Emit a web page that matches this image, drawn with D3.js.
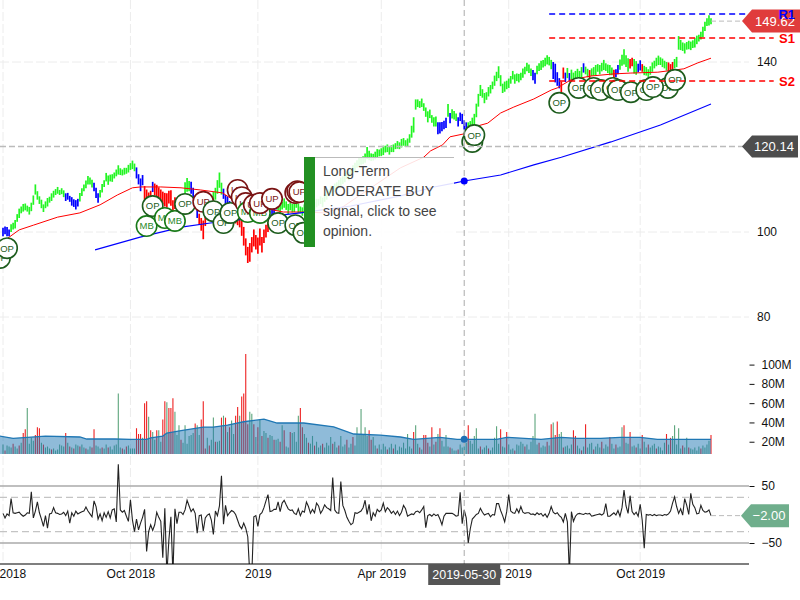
<!DOCTYPE html>
<html>
<head>
<meta charset="utf-8">
<script src="https://cdn.jsdelivr.net/npm/d3@7"></script>
<style>
  html, body { margin: 0; padding: 0; background: #fff; }
  text { font-family: "Liberation Sans", Arial, sans-serif; }
</style>
</head>
<body>
<svg id="chart" width="800" height="600"></svg>
<script>
// x axis is trading day index, 0 = first session of Jul 2018
const tickIdx = [0, 63, 126, 187, 250, 315];
const tickLabels = ["Jul 2018", "Oct 2018", "2019", "Apr 2019", "Jul 2019", "Oct 2019"];
const priceTicks = [140, 100, 80];
const volumeTicks = [20, 40, 60, 80, 100];
const cciTicks = [50, -50];
const cciDashed = [30, -30];

const closes = [
  100.0,100.4,100.1,99.8,100.9,101.4,101.8,103.3,104.4,105.2,
  105.7,105.9,105.5,105.0,105.9,107.5,110.0,108.6,107.5,106.6,
  105.6,106.4,107.0,107.6,108.2,108.9,109.4,109.8,109.3,109.6,
  109.0,108.2,108.4,107.8,107.2,106.8,106.4,106.9,108.2,109.4,
  110.4,111.2,112.2,112.0,111.4,110.6,109.2,108.0,109.0,110.3,
  111.4,112.9,112.2,112.7,112.7,113.3,113.9,114.6,114.2,114.0,
  114.3,114.4,114.9,115.4,115.8,115.2,113.9,112.4,111.1,112.2,
  109.2,108.6,108.0,108.6,110.6,110.0,109.6,109.2,108.6,108.0,
  107.6,107.4,108.2,108.0,105.6,106.8,106.2,105.8,105.2,107.0,
  110.4,111.1,110.8,110.4,108.8,107.0,104.5,103.0,101.8,100.5,
  103.0,105.0,106.0,107.4,108.2,109.0,110.6,112.2,110.2,109.0,
  107.5,107.0,106.0,105.0,104.2,103.6,103.0,102.8,101.0,99.0,
  96.5,94.6,95.2,97.0,98.6,97.6,96.8,98.8,97.0,99.0,
  100.2,101.2,102.8,104.0,105.2,106.4,106.0,105.4,106.2,106.8,
  106.2,105.4,106.0,105.6,105.9,106.6,105.6,105.2,104.8,105.6,
  105.2,105.0,106.0,105.6,106.2,106.8,107.0,107.5,107.0,108.0,
  108.6,109.2,110.0,109.6,110.4,110.8,111.4,111.8,112.2,112.8,
  113.4,113.2,114.0,114.8,115.2,116.0,116.4,116.6,116.9,117.4,
  118.6,118.0,117.6,117.6,118.0,118.5,118.6,118.8,119.2,119.5,
  119.7,119.2,119.6,119.7,120.2,120.5,120.3,120.9,121.2,120.8,
  121.1,122.0,123.6,125.2,130.0,130.3,130.0,130.4,129.4,128.2,
  127.1,127.8,126.6,125.9,126.0,124.4,124.5,124.8,125.2,125.7,
  128.6,126.8,127.8,127.5,127.0,125.9,127.1,126.6,125.2,124.9,
  124.8,125.2,125.8,126.4,128.6,131.0,133.3,132.6,131.5,132.0,
  133.0,133.6,134.5,135.6,136.6,137.6,135.6,133.8,134.2,134.6,
  135.0,135.8,136.9,136.0,136.4,136.2,136.6,137.4,138.0,138.8,
  138.4,137.6,136.9,136.2,138.1,138.8,139.2,139.6,140.0,140.5,
  140.2,139.4,138.0,137.4,136.0,135.0,134.0,137.4,136.4,137.4,
  136.4,137.0,136.6,136.8,137.4,137.0,137.6,138.6,138.0,137.4,
  137.0,137.6,137.8,138.1,138.6,138.2,138.8,139.3,138.8,138.4,
  138.1,137.8,137.2,137.4,138.2,139.4,140.4,141.2,140.2,139.3,
  139.6,140.0,139.0,138.6,138.6,139.2,138.6,138.0,137.8,137.4,
  138.0,138.8,139.4,140.0,140.4,140.2,139.8,139.4,139.0,138.8,
  138.6,139.0,139.6,140.0,144.5,144.0,143.6,143.2,143.8,144.0,
  143.8,144.2,144.5,145.2,145.6,146.2,147.1,148.4,149.4,149.8,149.6
];

// half of each day's high-low range
const halfRanges = [
  1.0,0.9,1.1,0.8,0.9,0.8,1.0,0.9,1.1,0.8,
  0.9,0.8,0.7,0.9,1.0,1.1,1.2,1.0,0.9,1.0,
  0.9,0.8,1.0,0.7,0.9,0.8,0.7,0.8,0.6,0.7,
  0.8,0.9,0.8,0.7,1.0,0.9,1.1,0.9,1.0,0.9,
  0.8,0.9,1.0,0.8,0.9,1.0,1.2,1.1,0.9,1.0,
  0.8,1.0,1.1,0.8,0.9,0.7,0.8,1.1,0.8,0.7,
  0.8,0.7,0.9,0.8,1.0,0.9,1.3,1.2,1.5,1.2,
  1.6,1.4,1.3,1.1,1.2,1.4,1.5,1.3,1.4,1.5,
  1.6,1.7,1.5,1.8,1.9,1.4,1.3,1.2,1.6,1.2,
  1.3,1.6,1.2,1.4,1.6,1.4,1.2,1.3,1.5,2.2,
  1.6,1.2,1.4,1.1,1.2,1.4,1.6,1.8,1.4,1.2,
  1.2,1.4,1.3,1.5,1.4,1.6,1.4,1.7,1.9,2.2,
  2.0,1.9,2.2,1.8,2.0,1.7,1.9,2.0,1.8,1.6,
  1.5,1.2,1.3,1.4,1.2,1.1,1.0,1.2,0.9,1.1,
  1.0,1.2,0.9,1.0,1.2,0.9,1.1,0.8,1.0,0.9,
  1.0,0.8,0.9,1.1,0.9,1.0,0.8,0.9,1.1,0.9,
  1.0,0.8,0.9,1.1,1.0,0.9,0.8,1.0,0.9,1.1,
  0.9,1.0,0.8,0.9,1.1,0.9,1.0,0.8,0.9,1.1,
  1.4,1.1,0.9,0.8,0.9,1.0,0.8,0.9,1.1,0.8,
  0.9,1.0,0.8,0.9,0.7,0.9,0.8,1.0,0.9,0.8,
  0.9,1.0,1.4,1.8,1.2,0.9,0.8,1.0,0.9,1.1,
  1.3,1.0,0.9,1.1,1.2,1.4,1.3,1.1,1.0,1.2,
  1.5,1.2,1.1,1.0,0.9,1.1,1.0,1.2,1.1,0.9,
  1.0,0.9,1.1,1.4,1.6,1.5,1.3,1.0,1.2,0.9,
  1.1,1.0,0.9,1.2,1.1,1.4,1.3,1.1,1.2,1.0,
  1.1,0.9,1.0,1.1,0.9,1.0,0.9,1.1,0.9,1.0,
  1.0,0.9,1.2,1.3,1.0,0.9,1.1,0.9,1.0,1.1,
  1.0,1.1,2.0,2.2,1.6,1.2,1.4,1.3,1.1,1.2,
  1.0,1.2,0.9,1.1,1.0,0.9,1.2,1.1,0.9,1.0,
  1.1,0.9,1.0,1.2,0.9,1.1,1.0,1.2,0.9,1.0,
  1.2,0.9,1.0,0.9,1.1,1.2,1.3,1.8,1.4,1.6,
  1.1,1.0,1.7,1.6,1.0,1.2,0.9,1.1,1.0,0.9,
  1.0,1.1,0.9,1.0,1.1,0.9,1.0,0.9,1.0,1.1,
  0.9,1.0,1.1,1.2,1.6,1.2,1.0,1.2,0.9,1.0,
  1.0,0.9,1.1,1.0,0.8,0.9,1.2,1.1,0.9,1.2,0.7
];

// bar colour runs: [state, number of sessions]
const barStates = [
  ["b",4],["g",27],["b",7],["g",7],["b",3],["g",18],["b",4],["r",4],["b",1],["r",15],
  ["g",3],["b",4],["r",4],["g",8],["b",4],["r",19],["b",4],["g",15],["b",2],["g",62],
  ["b",5],["g",1],["b",1],["g",3],["b",5],["g",32],["b",2],["g",8],["g",-1],["b",4],
  ["r",2],["b",1],["g",1],["b",1],["g",6],["b",1],["g",2],["r",1],["g",11],["r",1],
  ["b",2],["g",5],["r",2],["g",2],["b",2],["r",1],["g",12],["r",3],["g",20]
];

const volumes = [
  17,11,16,15,14,18,15,13,16,19,
  29,33,55,18,24,21,27,35,34,19,
  17,14,15,13,12,13,11,12,17,16,
  15,29,19,15,14,13,17,16,15,17,
  14,13,12,15,14,33,16,15,13,14,
  13,17,14,15,12,16,17,70,14,13,
  12,15,16,13,13,13,34,28,28,24,
  60,62,46,32,30,22,32,32,20,43,
  62,61,55,55,65,51,27,37,22,19,
  37,18,26,27,29,39,37,27,43,62,
  13,24,16,22,45,20,20,21,45,47,
  45,30,35,42,28,47,56,47,67,70,
  111,38,51,49,38,25,35,43,26,31,
  29,24,27,26,22,22,23,20,37,32,
  15,14,30,29,30,20,47,55,35,28,
  24,19,18,26,16,20,14,16,18,14,
  19,16,25,18,20,14,16,26,15,17,
  22,14,18,25,16,35,28,54,28,35,
  26,32,22,25,16,13,17,12,18,15,
  12,14,18,13,17,11,15,14,19,13,
  28,15,13,30,37,18,14,12,27,27,
  19,15,35,17,20,28,34,21,15,27,
  15,14,13,11,11,12,17,14,15,19,
  37,21,18,26,34,13,15,12,14,16,
  13,11,14,24,36,18,33,15,14,30,
  17,12,13,11,17,16,20,18,15,17,
  12,20,26,49,17,19,14,16,15,20,
  16,38,40,27,41,28,30,14,15,16,
  13,17,32,26,16,13,11,15,38,14,
  18,19,12,15,18,14,20,13,17,15,
  25,18,13,17,14,15,35,37,19,18,
  30,15,16,14,18,13,27,20,14,17,
  14,16,18,13,15,14,11,19,28,17,
  24,26,37,17,34,13,16,14,24,14,
  13,12,14,11,15,13,16,14,17,21,27
];
const redVolumeDays = [
  1,5,8,10,11,16,17,18,20,24,31,33,35,38,41,44,45,49,52,59,61,66,67,68,70,71,73,76,79,80,
  82,83,84,88,95,98,99,100,102,105,108,110,112,115,116,118,119,120,121,124,126,128,131,134,
  137,139,142,147,148,151,154,158,163,166,170,173,181,182,185,190,193,203,206,208,209,210,
  212,214,216,221,225,230,236,240,246,249,253,258,265,269,271,273,274,277,282,283,286,288,
  292,296,300,303,307,310,313,316,319,323,328,330,336,339,345,350
];

const cciValues = [
  2,-6,1,-2,28,3,2,3,4,0,
  -3,-1,3,2,40,-6,6,22,3,-8,
  -21,-2,-24,1,2,12,3,2,0,1,
  4,-2,6,-15,3,-3,6,1,3,5,
  6,13,6,1,-4,24,14,-8,1,-11,
  3,-5,5,-6,8,10,-13,88,8,4,
  7,-3,-12,26,-10,-30,-8,-27,-15,-5,
  9,-65,-30,-18,-28,-18,4,-5,-12,-76,
  11,-105,-45,-4,-105,10,-16,4,4,0,
  8,25,15,5,10,2,-33,-2,-1,-29,
  -6,-1,1,-10,-35,6,-2,15,68,-17,
  16,-2,3,7,5,0,-10,-20,-25,-15,
  -24,-39,-105,-105,-4,-2,-21,0,3,12,
  24,35,5,6,9,9,22,5,20,25,
  17,10,7,8,2,0,10,-2,6,4,
  22,14,2,9,3,20,15,2,8,17,
  12,10,7,65,8,3,2,58,16,7,
  -5,-12,-18,-15,3,2,4,6,12,25,
  0,18,-11,3,-3,9,5,8,20,5,
  12,8,2,6,0,6,-2,4,16,10,
  -3,-1,1,0,5,6,3,8,14,-23,
  -2,0,-3,1,-2,0,-8,-18,-3,2,
  2,2,2,0,-3,-2,39,-16,8,-6,
  -50,-25,-8,-4,0,2,11,4,-1,1,
  2,-4,0,-1,19,19,7,-2,-13,5,
  35,6,3,2,10,3,14,4,2,3,
  3,0,1,-1,3,0,2,-3,1,-5,
  2,14,4,1,3,-2,-5,-13,2,-13,
  -105,5,-12,-3,1,2,1,0,2,1,
  2,-3,-2,-1,0,1,-1,2,19,-3,
  -3,0,3,-1,7,-3,12,43,15,2,
  33,5,0,4,-3,18,-10,-59,0,-1,
  0,-2,0,-2,-1,-1,-2,0,-1,1,
  6,20,31,14,2,10,-1,28,16,0,
  37,18,12,1,2,16,7,4,5,8,-2
];

// moving averages read at the bends of the lines
const sma50Idx = [2.5,8,15,27,38,48,56.5,64,68,78,88,97.5,108.5,114,125,138.6,150.5,158.4,167,196.5,208,211.4,217.3,221,228,232.7,239.6,246,252.5,262.4,271,274,280.7,290.6,302,310.4,323.7,336.6,343.5,350];
const sma50Vals = [98.6,100.5,101.6,103.5,104.5,106.4,108.7,110.4,110.6,110.6,110.4,109.9,109.2,107.5,106,104.7,104.7,104.5,105.6,115.1,117.6,119.1,120.5,122.4,123.1,124.7,125.6,128,129.4,131.3,133.4,133.9,135.8,136.7,137.2,137.4,137.6,138.4,139.8,140.9];
const sma200Idx = [45.5,67.8,89,102.5,147,172,196.5,213,223,228,246,262.4,276,300.5,325,350];
const sma200Vals = [95.8,98.8,101.2,102.1,104.5,106.1,108.5,110.6,111.5,112,113.4,115.8,117.6,121.2,125.2,130.1];
const avgVolIdx = [-2,5,21,38,41.4,55.4,63,71,73,79,81,88,99,104,111,119,129,135.5,148.7,163.5,173.4,186.6,196.5,203,216,224.5,228,244,249,266,276,284,295.5,305,315,323.5,350];
const avgVolVals = [25.9,23.5,25.9,24.9,22.8,22.8,22.5,22.5,24.1,25.9,29,31.4,35.2,35.2,37.3,40.7,43.5,39.4,39.4,35.5,28,26.9,24.9,22.5,24.6,22.5,22.5,22.5,24.6,22.5,24.6,23.5,23.5,24.6,24.6,22.5,22.5];

// opinion flags
const flagDays = [-1.5,2,71,74,80,85,90,99,104,109,112.4,116,118,120,121,124,127,127,133,136,144.5,148.5,144.5,145.5,146.5,232,233,275,284.6,292,295.5,301.5,304,310.4,318,328.7,321.3,332.2];
const flagPrices = [93.9,96.2,101.4,106.1,103.3,102.6,106.6,107.1,104.9,102.1,104.5,109.9,108.2,106.8,104.7,106.4,104.5,106.8,107.8,102.1,101.6,99.8,109.2,109.6,109.4,121.2,122.8,130.4,133.9,133.9,133.4,133.9,133.4,132.9,133.4,133.9,134.1,135.8];
const flagLabels = ["OP","OP","MB","OP","MB","MB","OP","UP","OP","OP","OP","UP","UP","UP","MB","UP","MB","UP","UP","OP","OP","OP","UP","UP","UP","OP","OP","OP","OP","OP","OP","OP","OP","OP","OP","OP","OP","OP"];

const levelNames = ["R1", "S1", "S2"];
const levelValues = [151.3, 145.65, 135.55];
const levelColors = ["#0000ff", "#ff0000", "#ff0000"];

const lastPrice = 149.62;
const crossPrice = 120.14;
const lastCci = -2.00;
const crossDay = 228;
const crossDate = "2019-05-30";
const tipLines = ["Long-Term", "MODERATE BUY", "signal, click to see", "opinion."];

const svg = d3.select("#chart");
const rightEdge = 749;

const x = d3.scaleLinear().domain([0, 350]).range([3, 711]);
const yPrice = d3.scaleLinear().domain([140, 80]).range([62, 317]);
const yVol = d3.scaleLinear().domain([0, 100]).range([461, 364.6]);
const yCci = d3.scaleLinear().domain([50, -50]).range([486, 543]);
const volBase = 7.2;

svg.append("clipPath").attr("id", "plot").append("rect")
  .attr("x", 0).attr("y", 0).attr("width", rightEdge).attr("height", 564);

// grid
const grid = svg.append("g").attr("stroke", "#ececec").attr("stroke-dasharray", "9,3");
grid.selectAll(".gv").data(tickIdx).enter().append("line")
  .attr("x1", d => x(d)).attr("x2", d => x(d)).attr("y1", 0).attr("y2", 564);
grid.selectAll(".gh").data(priceTicks).enter().append("line")
  .attr("x1", 0).attr("x2", rightEdge).attr("y1", d => yPrice(d)).attr("y2", d => yPrice(d));

// volume pane
const dayIdx = d3.range(volumes.length);
const redSet = new Set(redVolumeDays);
svg.append("g").selectAll("line").data(dayIdx).enter().append("line")
  .attr("x1", d => x(d)).attr("x2", d => x(d))
  .attr("y1", d => yVol(volumes[d])).attr("y2", yVol(volBase))
  .attr("stroke", d => redSet.has(d) ? "#ee2222" : "#5ca57c")
  .attr("stroke-width", 1.1);

const avgVol = avgVolIdx.map((d, i) => [d, avgVolVals[i]]);
svg.append("path").datum(avgVol)
  .attr("clip-path", "url(#plot)")
  .attr("d", d3.area().x(d => x(d[0])).y0(yVol(volBase)).y1(d => yVol(d[1])))
  .attr("fill", "#1f77b4").attr("fill-opacity", 0.5);
svg.append("path").datum(avgVol)
  .attr("d", d3.line().x(d => x(d[0])).y(d => yVol(d[1])))
  .attr("fill", "none").attr("stroke", "#1f77b4").attr("stroke-width", 1.3);

// cci pane
svg.append("g").selectAll("line").data(cciDashed).enter().append("line")
  .attr("x1", 0).attr("x2", rightEdge).attr("y1", d => yCci(d)).attr("y2", d => yCci(d))
  .attr("stroke", "#c4c4c4").attr("stroke-width", 1.2).attr("stroke-dasharray", "7,4");
svg.append("g").selectAll("line").data(cciTicks).enter().append("line")
  .attr("x1", 0).attr("x2", rightEdge).attr("y1", d => yCci(d)).attr("y2", d => yCci(d))
  .attr("stroke", "#aaa").attr("stroke-width", 1.6);
svg.append("path").datum(cciValues)
  .attr("clip-path", "url(#plot)")
  .attr("d", d3.line().x((d, i) => x(i)).y(d => yCci(d)))
  .attr("fill", "none").attr("stroke", "#222").attr("stroke-width", 1.1);

// price bars
const stateColor = { g: "#22f522", b: "#0000ff", r: "#ff0000" };
const dayColor = [];
barStates.forEach(s => { for (let k = 0; k < s[1]; k++) dayColor.push(stateColor[s[0]]); });
svg.append("g").selectAll("line").data(dayIdx).enter().append("line")
  .attr("x1", d => x(d)).attr("x2", d => x(d))
  .attr("y1", d => yPrice(closes[d] + halfRanges[d]))
  .attr("y2", d => yPrice(closes[d] - halfRanges[d]))
  .attr("stroke", d => dayColor[d] || "#22f522")
  .attr("stroke-width", 1.7);

// moving averages
const maLine = d3.line().x(d => x(d[0])).y(d => yPrice(d[1]));
svg.append("path").datum(sma50Idx.map((d, i) => [d, sma50Vals[i]]))
  .attr("d", maLine).attr("fill", "none").attr("stroke", "#ff0000").attr("stroke-width", 1);
svg.append("path").datum(sma200Idx.map((d, i) => [d, sma200Vals[i]]))
  .attr("d", maLine).attr("fill", "none").attr("stroke", "#0000ff").attr("stroke-width", 1.1);

// flags
const flagStyle = { OP: ["#1d5c1d", "#1d5c1d"], MB: ["#187a18", "#2a8a2a"], UP: ["#7a1414", "#7a1414"] };
const flags = svg.append("g").attr("clip-path", "url(#plot)").selectAll("g")
  .data(flagDays).enter().append("g")
  .attr("transform", (d, i) => `translate(${x(d)},${yPrice(flagPrices[i])})`);
flags.append("circle").attr("r", 10.2)
  .attr("fill", "#fff").attr("stroke", (d, i) => flagStyle[flagLabels[i]][0]).attr("stroke-width", 1.6);
flags.append("text").attr("text-anchor", "middle").attr("dy", "0.36em")
  .attr("font-size", 9.5).attr("fill", (d, i) => flagStyle[flagLabels[i]][1])
  .text((d, i) => flagLabels[i]);

// support and resistance levels
svg.append("g").selectAll("line").data(levelValues).enter().append("line")
  .attr("x1", x(270)).attr("x2", x(381))
  .attr("y1", d => yPrice(d)).attr("y2", d => yPrice(d))
  .attr("stroke", (d, i) => levelColors[i]).attr("stroke-width", 1.5).attr("stroke-dasharray", "6,4");

// crosshair
svg.append("line").attr("x1", x(crossDay)).attr("x2", x(crossDay)).attr("y1", 0).attr("y2", 564)
  .attr("stroke", "#aaa").attr("stroke-dasharray", "6,4");
svg.append("line").attr("x1", 0).attr("x2", 746).attr("y1", yPrice(crossPrice)).attr("y2", yPrice(crossPrice))
  .attr("stroke", "#bbb").attr("stroke-width", 1.5).attr("stroke-dasharray", "6,3");
svg.append("circle").attr("cx", x(crossDay)).attr("cy", yPrice(sma200Vals[sma200Idx.indexOf(crossDay)]))
  .attr("r", 3.5).attr("fill", "#0000ff");
svg.append("circle").attr("cx", x(crossDay)).attr("cy", yVol(avgVolVals[avgVolIdx.indexOf(crossDay)]))
  .attr("r", 3.5).attr("fill", "#1f6fb4");

// axes
function styleAxis(g, size) {
  g.selectAll("text").attr("font-size", size).attr("fill", "#111");
  g.selectAll(".tick line").attr("stroke", "#111");
}
const xAxis = svg.append("g").attr("transform", "translate(0,564)")
  .call(d3.axisBottom(x).tickValues(tickIdx).tickFormat((d, i) => tickLabels[i]).tickSize(0).tickPadding(5));
xAxis.call(styleAxis, 12);
xAxis.select(".domain").attr("d", `M0,0H${rightEdge}`).attr("stroke", "#000").attr("stroke-width", 1.2);

const priceAxis = svg.append("g").attr("transform", "translate(757,0)")
  .call(d3.axisRight(yPrice).tickValues(priceTicks).tickSize(0).tickPadding(0));
priceAxis.call(styleAxis, 12);
priceAxis.select(".domain").remove();

const volAxis = svg.append("g").attr("transform", "translate(749.5,0)")
  .call(d3.axisRight(yVol).tickValues(volumeTicks).tickFormat(d => d + "M").tickSize(5).tickPadding(7));
volAxis.call(styleAxis, 12);
volAxis.select(".domain").remove();

const cciAxis = svg.append("g").attr("transform", "translate(749.5,0)")
  .call(d3.axisRight(yCci).tickValues(cciTicks).tickSize(5).tickPadding(7));
cciAxis.call(styleAxis, 12);
cciAxis.select(".domain").remove();

// value tags
function addTag(yPos, left, right, h, color, label, connectFrom) {
  if (connectFrom !== null) {
    svg.append("line").attr("x1", connectFrom).attr("x2", left).attr("y1", yPos).attr("y2", yPos)
      .attr("stroke", "#bbb").attr("stroke-dasharray", "5,3");
  }
  const p = d3.path();
  p.moveTo(left, yPos);
  p.lineTo(left + 10, yPos - h / 2);
  p.lineTo(right, yPos - h / 2);
  p.lineTo(right, yPos + h / 2);
  p.lineTo(left + 10, yPos + h / 2);
  p.closePath();
  svg.append("path").attr("d", p.toString()).attr("fill", color);
  svg.append("text").attr("x", (left + 10 + right) / 2 - 1).attr("y", yPos).attr("dy", "0.36em")
    .attr("text-anchor", "middle").attr("font-size", 13).attr("fill", "#fff").text(label);
}
addTag(yPrice(lastPrice), 742, 800, 23, "#e03c3c", d3.format(".2f")(lastPrice), x(350));
addTag(yPrice(crossPrice), 742, 798, 22, "#4d4d4d", d3.format(".2f")(crossPrice), null);
addTag(yCci(lastCci), 741, 789, 23, "#6fae8c", d3.format(".2f")(lastCci), x(350));

// level names go above the tags
svg.append("g").selectAll("text").data(levelValues).enter().append("text")
  .attr("x", 795).attr("y", d => yPrice(d)).attr("dy", "0.36em")
  .attr("text-anchor", "end").attr("font-size", 13).attr("font-weight", "bold")
  .attr("fill", (d, i) => levelColors[i]).text((d, i) => levelNames[i]);

// date label on the crosshair
const dateX = x(crossDay);
svg.append("rect").attr("x", dateX - 36).attr("y", 564).attr("width", 72).attr("height", 21).attr("fill", "#555");
svg.append("text").attr("x", dateX).attr("y", 574.5).attr("dy", "0.36em").attr("text-anchor", "middle")
  .attr("font-size", 12.5).attr("fill", "#fff").text(crossDate);

// opinion tooltip, translucent over the chart
const tip = svg.append("g");
tip.append("rect").attr("x", 304).attr("y", 157).attr("width", 150).attr("height", 89)
  .attr("fill", "#fff").attr("fill-opacity", 0.88);
tip.append("line").attr("x1", 304).attr("x2", 454).attr("y1", 157.5).attr("y2", 157.5).attr("stroke", "#bbb");
tip.append("rect").attr("x", 304).attr("y", 157).attr("width", 11).attr("height", 90)
  .attr("fill", "#168a16").attr("fill-opacity", 0.95);
tip.selectAll("text").data(tipLines).enter().append("text")
  .attr("x", 323).attr("y", (d, i) => 171 + i * 20).attr("dy", "0.36em")
  .attr("font-size", 14).attr("fill", "#444").text(d => d);
</script>
</body>
</html>
